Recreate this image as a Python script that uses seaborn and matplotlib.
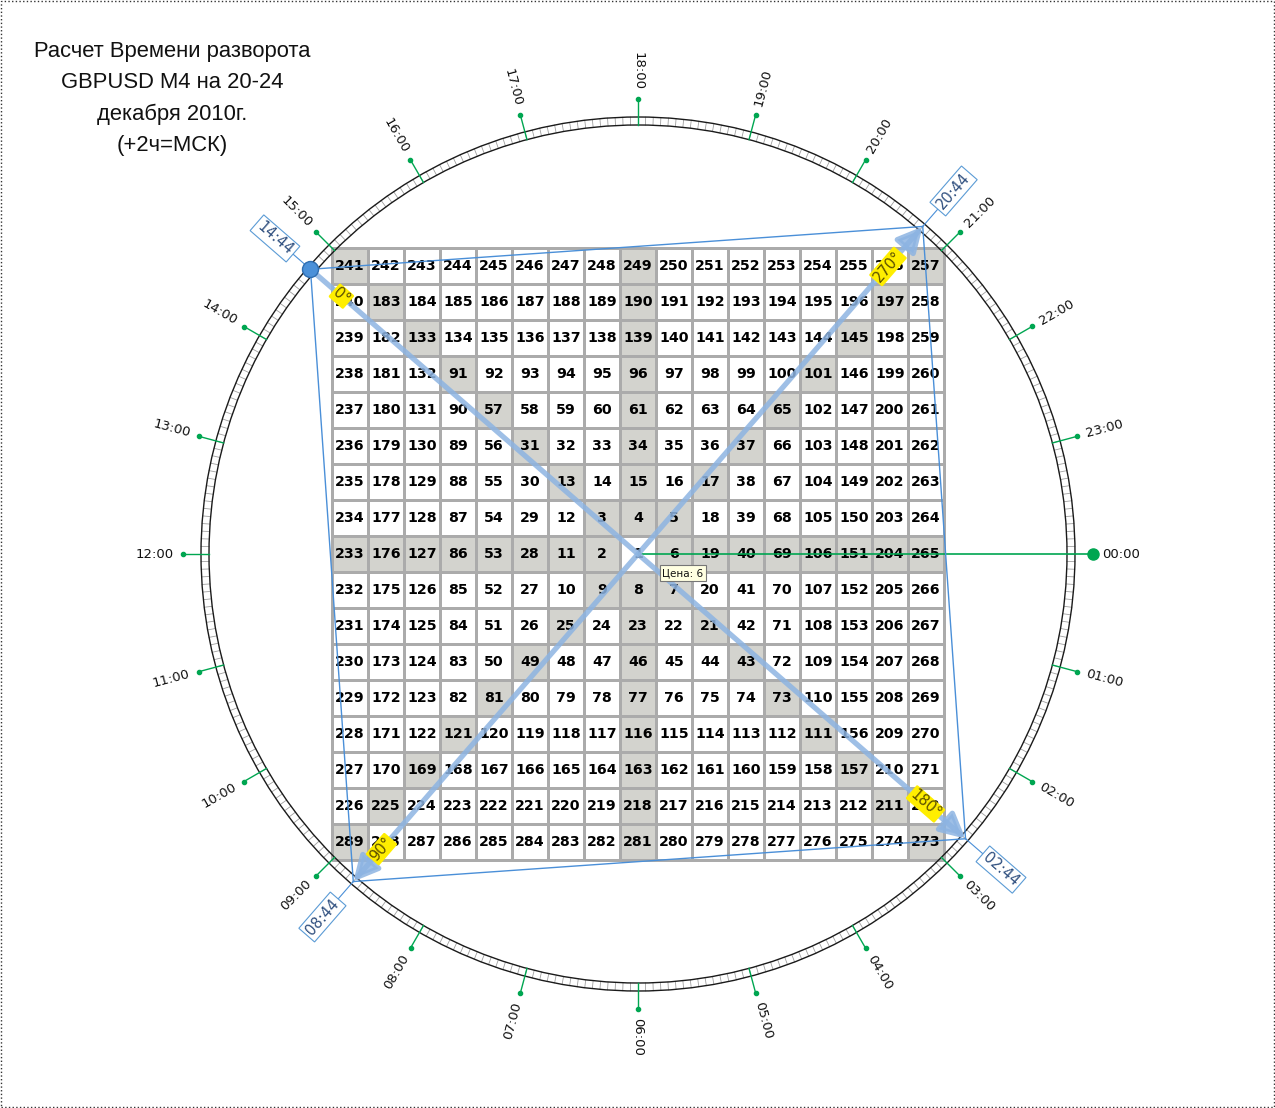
import numpy as np
import pandas as pd
import matplotlib
matplotlib.use("Agg")
import matplotlib.pyplot as plt
import seaborn as sns
from matplotlib.colors import ListedColormap
from matplotlib.patches import Circle, Rectangle

# Square of nine, rows top to bottom
square_rows = [
    [241, 242, 243, 244, 245, 246, 247, 248, 249, 250, 251, 252, 253, 254, 255, 256, 257],
    [240, 183, 184, 185, 186, 187, 188, 189, 190, 191, 192, 193, 194, 195, 196, 197, 258],
    [239, 182, 133, 134, 135, 136, 137, 138, 139, 140, 141, 142, 143, 144, 145, 198, 259],
    [238, 181, 132, 91, 92, 93, 94, 95, 96, 97, 98, 99, 100, 101, 146, 199, 260],
    [237, 180, 131, 90, 57, 58, 59, 60, 61, 62, 63, 64, 65, 102, 147, 200, 261],
    [236, 179, 130, 89, 56, 31, 32, 33, 34, 35, 36, 37, 66, 103, 148, 201, 262],
    [235, 178, 129, 88, 55, 30, 13, 14, 15, 16, 17, 38, 67, 104, 149, 202, 263],
    [234, 177, 128, 87, 54, 29, 12, 3, 4, 5, 18, 39, 68, 105, 150, 203, 264],
    [233, 176, 127, 86, 53, 28, 11, 2, 1, 6, 19, 40, 69, 106, 151, 204, 265],
    [232, 175, 126, 85, 52, 27, 10, 9, 8, 7, 20, 41, 70, 107, 152, 205, 266],
    [231, 174, 125, 84, 51, 26, 25, 24, 23, 22, 21, 42, 71, 108, 153, 206, 267],
    [230, 173, 124, 83, 50, 49, 48, 47, 46, 45, 44, 43, 72, 109, 154, 207, 268],
    [229, 172, 123, 82, 81, 80, 79, 78, 77, 76, 75, 74, 73, 110, 155, 208, 269],
    [228, 171, 122, 121, 120, 119, 118, 117, 116, 115, 114, 113, 112, 111, 156, 209, 270],
    [227, 170, 169, 168, 167, 166, 165, 164, 163, 162, 161, 160, 159, 158, 157, 210, 271],
    [226, 225, 224, 223, 222, 221, 220, 219, 218, 217, 216, 215, 214, 213, 212, 211, 272],
    [289, 288, 287, 286, 285, 284, 283, 282, 281, 280, 279, 278, 277, 276, 275, 274, 273],
]

hour_labels = ["%02d:00" % h for h in range(24)]
key_times = ["14:44", "20:44", "02:44", "08:44"]
key_degrees = ["0°", "270°", "180°", "90°"]
price_tip = "Цена: 6"
title_lines = ["Расчет Времени разворота", "GBPUSD M4 на 20-24",
               "декабря 2010г.", "(+2ч=МСК)"]

numbers = np.array(square_rows)
n = numbers.shape[0]
mid = n // 2
ii, jj = np.indices(numbers.shape)
cross = (ii == mid) | (jj == mid) | (ii == jj) | (ii + jj == n - 1)
cross[mid, mid] = False
grid = pd.DataFrame(cross.astype(int))

PX = 36.0  # pixels per cell
W, H = 1275, 1108
CX, CY = 638, 554
cx = cy = n / 2.0


def hour_angle(hhmm):
    h, m = hhmm.split(":")
    t = int(h) + int(m) / 60.0
    return np.deg2rad(-15.0 * t)


def polar(a, r_px):
    r = r_px / PX
    return cx + r * np.cos(a), cy - r * np.sin(a)


def text_rot(a):
    d = np.rad2deg(a) % 360
    if d >= 90 and d < 270:
        d -= 180
    elif d >= 270:
        d -= 360
    return d


fig = plt.figure(figsize=(W / 100, H / 100), dpi=100)
ax = fig.add_axes([0, 0, 1, 1])

sns.heatmap(grid, ax=ax, cmap=ListedColormap(["white", "#d3d3ce"]), cbar=False,
            annot=numbers, fmt="d", linewidths=0.8, linecolor="#ababab",
            annot_kws={"fontsize": 10.2, "fontweight": "bold", "color": "black",
                       "family": "DejaVu Sans"})

ax.set_xlim(cx - CX / PX, cx + (W - CX) / PX)
ax.set_ylim(cy + (H - CY) / PX, cy - CY / PX)
ax.axis("off")

# clock ring
r_in, r_out = 429 / PX, 437 / PX
ax.add_patch(Circle((cx, cy), r_out, fill=False, ec="#1a1a1a", lw=1, zorder=3))
ax.add_patch(Circle((cx, cy), r_in, fill=False, ec="#1a1a1a", lw=1, zorder=3))
for k in range(360):
    a = np.deg2rad(k)
    ax.plot([cx + r_in * np.cos(a), cx + r_out * np.cos(a)],
            [cy - r_in * np.sin(a), cy - r_out * np.sin(a)],
            color="#a0a0a0", lw=0.6, zorder=2)

green = "#00a651"
for lab in hour_labels:
    a = hour_angle(lab)
    x0, y0 = polar(a, 429)
    x1, y1 = polar(a, 455)
    if lab == "00:00":
        ax.plot([cx, x1], [cy, y1], color=green, lw=1.2, zorder=4)
        ax.plot(x1, y1, "o", color=green, ms=8, zorder=5)
    else:
        ax.plot([x0, x1], [y0, y1], color=green, lw=1, zorder=4)
        ax.plot(x1, y1, "o", color=green, ms=3, zorder=5)
    tx, ty = polar(a, 483)
    ax.text(tx, ty, lab, rotation=text_rot(a), rotation_mode="anchor",
            ha="center", va="center", fontsize=9.5, color="#111111",
            family="DejaVu Sans")

# key time points
blue = "#4a8fd8"
pts = [polar(hour_angle(t), 434) for t in key_times]
for i in range(4):
    p, q = pts[i], pts[(i + 1) % 4]
    ax.plot([p[0], q[0]], [p[1], q[1]], color=blue, lw=1, zorder=6)
for t, p in zip(key_times, pts):
    a = hour_angle(t)
    lx, ly = polar(a, 481)
    ex, ey = polar(a, 462)
    ax.plot([p[0], ex], [p[1], ey], color=blue, lw=0.8, zorder=6)
    ax.text(lx, ly, t, rotation=text_rot(a), rotation_mode="anchor",
            ha="center", va="center", fontsize=10.5, color="#2f4f7f",
            family="DejaVu Sans", zorder=9,
            bbox=dict(boxstyle="square,pad=0.2", fc="white", ec="#5b9bd5", lw=0.8))

arrow_c = "#8db4e2"
ax.annotate("", xy=pts[2], xytext=pts[0], zorder=7,
            arrowprops=dict(arrowstyle="-|>,head_length=0.75,head_width=0.38",
                            mutation_scale=20, lw=3.8, color=arrow_c, alpha=0.85,
                            shrinkA=0, shrinkB=0))
ax.annotate("", xy=pts[1], xytext=pts[3], zorder=7,
            arrowprops=dict(arrowstyle="<|-|>,head_length=0.75,head_width=0.38",
                            mutation_scale=20, lw=3.8, color=arrow_c, alpha=0.85,
                            shrinkA=0, shrinkB=0))
ax.plot(pts[0][0], pts[0][1], "o", ms=11.5, mfc="#4a90d9", mec="#2e6db0",
        mew=1, zorder=8)

deg_r = [393, 381, 381, 391]
for t, d, r in zip(key_times, key_degrees, deg_r):
    a = hour_angle(t)
    dx, dy = polar(a, r)
    ax.text(dx, dy, d, rotation=text_rot(a), rotation_mode="anchor",
            ha="center", va="center", fontsize=10.5, color="#5c5000",
            family="DejaVu Sans", zorder=9,
            bbox=dict(boxstyle="round,pad=0.1", fc="#ffee00", ec="none"))

# tooltip
ax.text(cx + 45 / PX, cy + 19 / PX, price_tip, ha="center", va="center",
        fontsize=7.5, color="#111111", family="DejaVu Sans", zorder=10,
        bbox=dict(boxstyle="square,pad=0.25", fc="#ffffe1", ec="#767676", lw=0.8))

# title
for k, line in enumerate(title_lines):
    fig.text(172 / W, 1 - (52 + 31 * k) / H, line, ha="center", va="center",
             fontsize=15.8, family="Liberation Sans", color="#111111")

fig.patches.append(Rectangle((0.001, 0.001), 0.998, 0.998, transform=fig.transFigure,
                             fill=False, ec="#333333", lw=1, ls=":"))

fig.savefig("out.png", dpi=100)
